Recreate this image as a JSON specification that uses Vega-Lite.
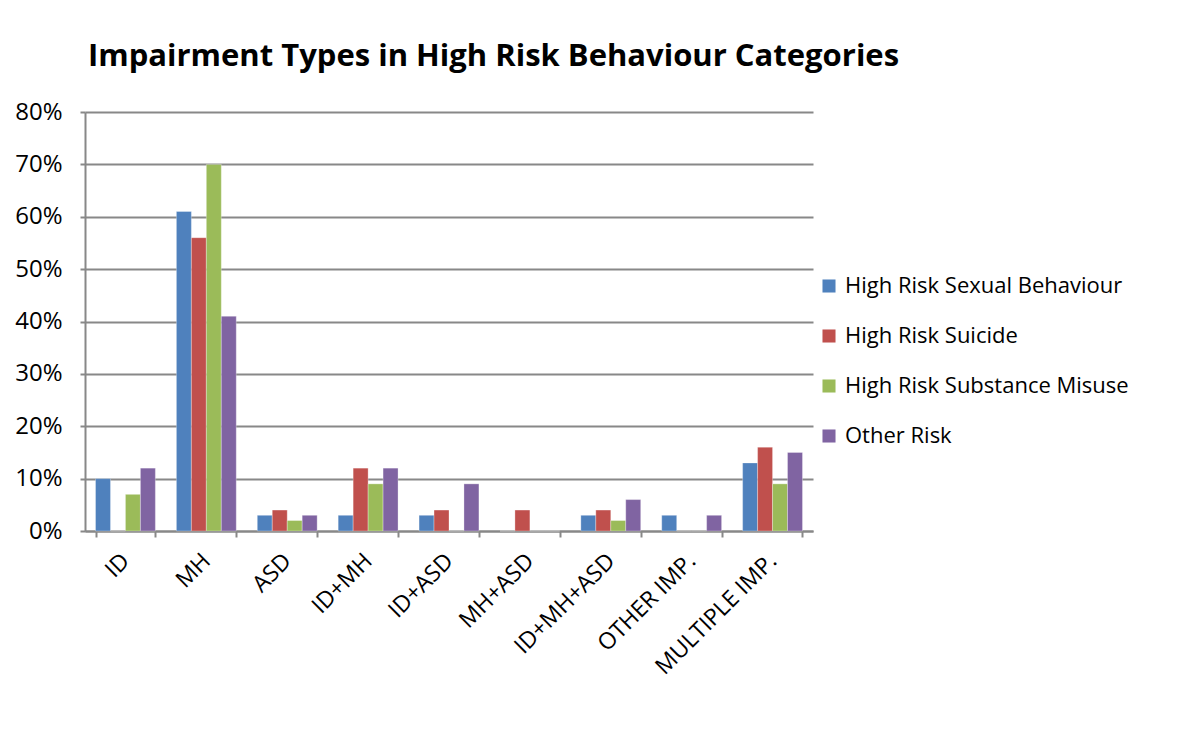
{
  "$schema": "https://vega.github.io/schema/vega-lite/v6.json",
  "width": 728,
  "height": 419,
  "autosize": {"type": "none"},
  "padding": {"left": 85, "top": 112, "right": 390, "bottom": 198},
  "background": "white",
  "title": {
    "text": "Impairment Types in High Risk Behaviour Categories",
    "anchor": "start",
    "frame": "group",
    "dx": 3,
    "offset": 27,
    "font": "Open Sans",
    "fontSize": 31,
    "fontWeight": "bold",
    "color": "#000000"
  },
  "data": {
    "values": [
      {"cat": "ID", "risk": "High Risk Sexual Behaviour", "v": 0.10},
      {"cat": "ID", "risk": "High Risk Suicide", "v": 0.0},
      {"cat": "ID", "risk": "High Risk Substance Misuse", "v": 0.07},
      {"cat": "ID", "risk": "Other Risk", "v": 0.12},
      {"cat": "MH", "risk": "High Risk Sexual Behaviour", "v": 0.61},
      {"cat": "MH", "risk": "High Risk Suicide", "v": 0.56},
      {"cat": "MH", "risk": "High Risk Substance Misuse", "v": 0.70},
      {"cat": "MH", "risk": "Other Risk", "v": 0.41},
      {"cat": "ASD", "risk": "High Risk Sexual Behaviour", "v": 0.03},
      {"cat": "ASD", "risk": "High Risk Suicide", "v": 0.04},
      {"cat": "ASD", "risk": "High Risk Substance Misuse", "v": 0.02},
      {"cat": "ASD", "risk": "Other Risk", "v": 0.03},
      {"cat": "ID+MH", "risk": "High Risk Sexual Behaviour", "v": 0.03},
      {"cat": "ID+MH", "risk": "High Risk Suicide", "v": 0.12},
      {"cat": "ID+MH", "risk": "High Risk Substance Misuse", "v": 0.09},
      {"cat": "ID+MH", "risk": "Other Risk", "v": 0.12},
      {"cat": "ID+ASD", "risk": "High Risk Sexual Behaviour", "v": 0.03},
      {"cat": "ID+ASD", "risk": "High Risk Suicide", "v": 0.04},
      {"cat": "ID+ASD", "risk": "High Risk Substance Misuse", "v": 0.0},
      {"cat": "ID+ASD", "risk": "Other Risk", "v": 0.09},
      {"cat": "MH+ASD", "risk": "High Risk Sexual Behaviour", "v": 0.0},
      {"cat": "MH+ASD", "risk": "High Risk Suicide", "v": 0.04},
      {"cat": "MH+ASD", "risk": "High Risk Substance Misuse", "v": 0.0},
      {"cat": "MH+ASD", "risk": "Other Risk", "v": 0.0},
      {"cat": "ID+MH+ASD", "risk": "High Risk Sexual Behaviour", "v": 0.03},
      {"cat": "ID+MH+ASD", "risk": "High Risk Suicide", "v": 0.04},
      {"cat": "ID+MH+ASD", "risk": "High Risk Substance Misuse", "v": 0.02},
      {"cat": "ID+MH+ASD", "risk": "Other Risk", "v": 0.06},
      {"cat": "OTHER IMP.", "risk": "High Risk Sexual Behaviour", "v": 0.03},
      {"cat": "OTHER IMP.", "risk": "High Risk Suicide", "v": 0.0},
      {"cat": "OTHER IMP.", "risk": "High Risk Substance Misuse", "v": 0.0},
      {"cat": "OTHER IMP.", "risk": "Other Risk", "v": 0.03},
      {"cat": "MULTIPLE IMP.", "risk": "High Risk Sexual Behaviour", "v": 0.13},
      {"cat": "MULTIPLE IMP.", "risk": "High Risk Suicide", "v": 0.16},
      {"cat": "MULTIPLE IMP.", "risk": "High Risk Substance Misuse", "v": 0.09},
      {"cat": "MULTIPLE IMP.", "risk": "Other Risk", "v": 0.15}
    ]
  },
  "mark": {"type": "bar", "stroke": "white", "strokeWidth": 0.5, "strokeOpacity": 0.6},
  "encoding": {
    "x": {
      "field": "cat",
      "type": "nominal",
      "sort": null,
      "scale": {"paddingInner": 0.26, "paddingOuter": 0.13},
      "axis": {
        "title": null,
        "labelAngle": -45,
        "labelAlign": "right",
        "labelBaseline": "middle",
        "labelFont": "Open Sans",
        "labelFontSize": 23,
        "labelColor": "#000000",
        "labelPadding": 20,
        "labelLimit": 0,
        "tickBand": "extent",
        "tickSize": 6,
        "tickColor": "#888888",
        "tickWidth": 2,
        "domainColor": "#888888",
        "domainWidth": 2,
        "grid": false
      }
    },
    "xOffset": {
      "field": "risk",
      "type": "nominal",
      "sort": ["High Risk Sexual Behaviour", "High Risk Suicide", "High Risk Substance Misuse", "Other Risk"]
    },
    "y": {
      "field": "v",
      "type": "quantitative",
      "scale": {"domain": [0, 0.8]},
      "axis": {
        "title": null,
        "format": ".0%",
        "values": [0, 0.1, 0.2, 0.3, 0.4, 0.5, 0.6, 0.7, 0.8],
        "labelFont": "Open Sans",
        "labelFontSize": 24,
        "labelColor": "#000000",
        "labelPadding": 18,
        "tickSize": 5,
        "tickColor": "#888888",
        "tickWidth": 2,
        "domainColor": "#888888",
        "domainWidth": 2,
        "gridColor": "#888888",
        "gridWidth": 2
      }
    },
    "color": {
      "field": "risk",
      "type": "nominal",
      "sort": ["High Risk Sexual Behaviour", "High Risk Suicide", "High Risk Substance Misuse", "Other Risk"],
      "scale": {
        "domain": ["High Risk Sexual Behaviour", "High Risk Suicide", "High Risk Substance Misuse", "Other Risk"],
        "range": ["#4F81BD", "#C0504D", "#9BBB59", "#8064A2"]
      },
      "legend": {
        "title": null,
        "orient": "none",
        "legendX": 733,
        "legendY": 163,
        "symbolType": "square",
        "symbolSize": 170,
        "symbolStrokeWidth": 0,
        "labelFont": "Open Sans",
        "labelFontSize": 22,
        "labelColor": "#000000",
        "labelLimit": 0,
        "rowPadding": 28,
        "labelOffset": 5
      }
    }
  },
  "config": {
    "view": {"stroke": null}
  }
}
